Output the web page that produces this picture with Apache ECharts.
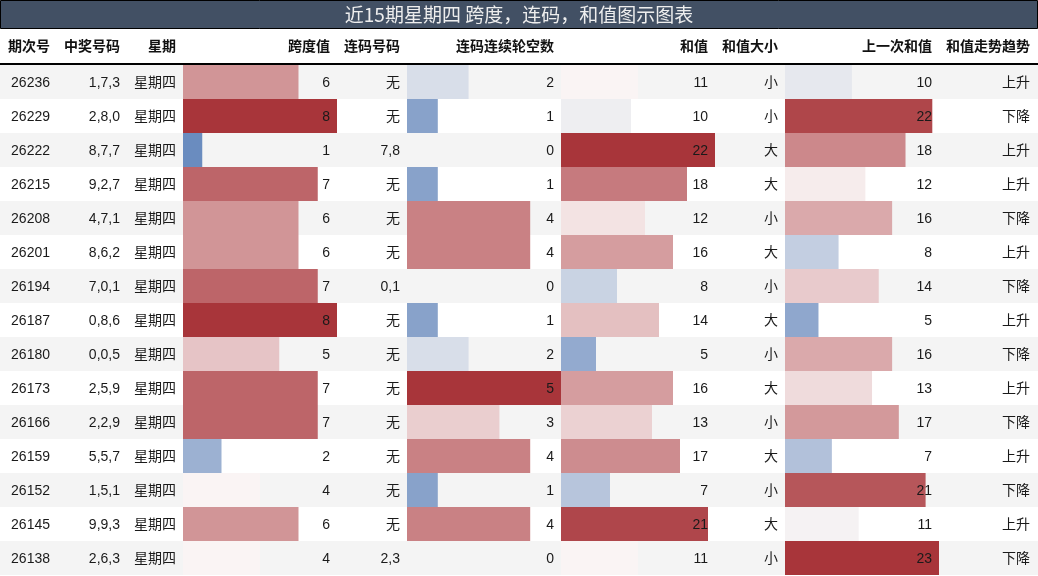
<!DOCTYPE html>
<html>
<head>
<meta charset="utf-8">
<title>近15期星期四 跨度，连码，和值图示图表</title>
<script src="https://cdn.jsdelivr.net/npm/echarts@6/dist/echarts.min.js"></script>
<style>
  html, body { margin: 0; padding: 0; background: #fff; }
  #chart { width: 1038px; height: 576px; }
</style>
</head>
<body>
<div id="chart"></div>
<script>
// 数据
const issues = ['26236', '26229', '26222', '26215', '26208', '26201', '26194', '26187', '26180', '26173', '26166', '26159', '26152', '26145', '26138']
const numbers = ['1,7,3', '2,8,0', '8,7,7', '9,2,7', '4,7,1', '8,6,2', '7,0,1', '0,8,6', '0,0,5', '2,5,9', '2,2,9', '5,5,7', '1,5,1', '9,9,3', '2,6,3']
const weekdays = ['星期四', '星期四', '星期四', '星期四', '星期四', '星期四', '星期四', '星期四', '星期四', '星期四', '星期四', '星期四', '星期四', '星期四', '星期四']
const spans = [6, 8, 1, 7, 6, 6, 7, 8, 5, 7, 7, 2, 4, 6, 4]
const consecNums = ['无', '无', '7,8', '无', '无', '无', '0,1', '无', '无', '无', '无', '无', '无', '无', '2,3']
const gaps = [2, 1, 0, 1, 4, 4, 0, 1, 2, 5, 3, 4, 1, 4, 0]
const sums = [11, 10, 22, 18, 12, 16, 8, 14, 5, 16, 13, 17, 7, 21, 11]
const sizes = ['小', '小', '大', '大', '小', '大', '小', '大', '小', '大', '小', '大', '小', '大', '小']
const prevSums = [10, 22, 18, 12, 16, 8, 14, 5, 16, 13, 17, 7, 21, 11, 23]
const trends = ['上升', '下降', '上升', '上升', '下降', '上升', '下降', '上升', '下降', '上升', '下降', '上升', '下降', '上升', '下降']

const headers = ['期次号', '中奖号码', '星期', '跨度值', '连码号码', '连码连续轮空数', '和值', '和值大小', '上一次和值', '和值走势趋势']
const titleText = '近15期星期四 跨度，连码，和值图示图表'

// 布局
const W = 1038
const TOP = 65
const ROW_H = 34
const BODY_H = ROW_H * issues.length
const colRight = [50, 120, 176, 330, 400, 554, 708, 778, 932, 1030]
const barCols = [
  {left: 183, values: spans},
  {left: 407, values: gaps},
  {left: 561, values: sums},
  {left: 785, values: prevSums}
]
const BAR_W = 154
const FONT = '14px "Liberation Sans", "Noto Sans CJK SC", sans-serif'
const BOLD = 'bold 14px "Liberation Sans", "Noto Sans CJK SC", sans-serif'

// 蓝-白-红 发散色
const stops = [
  [0, [56, 102, 172]],
  [0.46, [240, 240, 242]],
  [0.5, [250, 244, 244]],
  [1, [168, 53, 58]]
]
function divColor (t) {
  t = Math.max(0, Math.min(1, t))
  let a = stops[0]
  let b = stops[stops.length - 1]
  for (let i = 0; i < stops.length - 1; i++) {
    if (t >= stops[i][0] && t <= stops[i + 1][0]) {
      a = stops[i]
      b = stops[i + 1]
      break
    }
  }
  const k = (t - a[0]) / (b[0] - a[0])
  const c = a[1].map((v, j) => Math.round(v + (b[1][j] - v) * k))
  return 'rgb(' + c.join(',') + ')'
}

const rowIdx = issues.map((d, i) => i)
const cellText = [issues, numbers, weekdays, spans, consecNums, gaps, sums, sizes, prevSums, trends]

let grids = [{left: 0, width: W, top: TOP, height: BODY_H}]
let xAxes = [{gridIndex: 0, type: 'value', min: 0, max: W, show: false}]
let yAxes = [{
  gridIndex: 0,
  type: 'category',
  data: rowIdx,
  inverse: true,
  axisLine: {show: false},
  axisTick: {show: false},
  axisLabel: {show: false},
  splitArea: {show: true, areaStyle: {color: ['#f4f4f4', '#ffffff']}}
}]
let series = []

barCols.forEach(function (col, n) {
  const gi = n + 1
  const maxV = Math.max.apply(null, col.values)
  grids.push({left: col.left, width: BAR_W, top: TOP, height: BODY_H})
  xAxes.push({gridIndex: gi, type: 'value', min: 0, max: maxV, show: false})
  yAxes.push({gridIndex: gi, type: 'category', data: rowIdx, inverse: true, show: false})
  series.push({
    type: 'bar',
    xAxisIndex: gi,
    yAxisIndex: gi,
    barWidth: '100%',
    silent: true,
    data: col.values.map(v => ({value: v, itemStyle: {color: divColor(v / maxV)}}))
  })
})

// 表格文字
series.push({
  type: 'custom',
  xAxisIndex: 0,
  yAxisIndex: 0,
  z: 10,
  silent: true,
  data: rowIdx.map(i => [0, i]),
  renderItem: function (params, api) {
    const i = api.value(1)
    const y = api.coord([0, i])[1] + 1
    return {
      type: 'group',
      children: colRight.map((x, c) => ({
        type: 'text',
        style: {
          text: String(cellText[c][i]),
          x: x,
          y: y,
          align: 'right',
          verticalAlign: 'middle',
          font: FONT,
          fill: '#1a1a1a'
        }
      }))
    }
  }
})

let graphics = [
  {
    type: 'rect',
    shape: {x: 0.5, y: 0.5, width: W - 1, height: 28},
    style: {fill: '#425064', stroke: '#000', lineWidth: 1}
  },
  {
    type: 'text',
    x: W / 2,
    y: 15,
    style: {
      text: titleText,
      align: 'center',
      verticalAlign: 'middle',
      font: '19px "Noto Sans CJK SC", sans-serif',
      fill: '#eeeeee'
    }
  },
  {
    type: 'line',
    shape: {x1: 0, y1: 64, x2: W, y2: 64},
    style: {stroke: '#000', lineWidth: 2}
  }
]
headers.forEach(function (h, c) {
  graphics.push({
    type: 'text',
    x: colRight[c],
    y: 47,
    style: {text: h, align: 'right', verticalAlign: 'middle', font: BOLD, fill: '#111'}
  })
})

const option = {
  animation: false,
  backgroundColor: '#fff',
  grid: grids,
  xAxis: xAxes,
  yAxis: yAxes,
  series: series,
  graphic: graphics
}

const myChart = echarts.init(document.getElementById('chart'))
myChart.setOption(option)
</script>
</body>
</html>
